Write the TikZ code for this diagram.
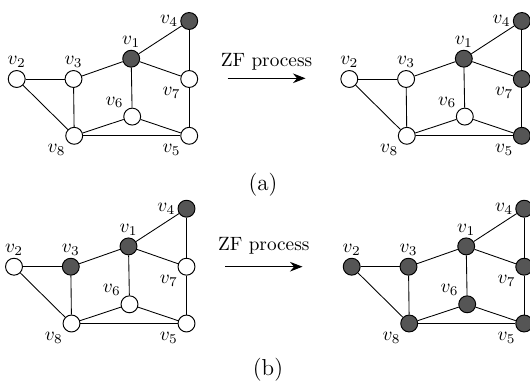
\documentclass[tikz,border=0pt]{standalone}
\usetikzlibrary{arrows.meta}
\definecolor{zfgray}{RGB}{85,85,85}

\tikzset{%
  % Specifications for style of vertices:
         vtx/.style = {circle, draw=black, fill=white, minimum size=8.8pt, inner sep=0pt, line width=0.5pt},
          zf/.style = {fill=zfgray},
  f1/.style = {}, f2/.style = {}, f3/.style = {}, f4/.style = {},
  f5/.style = {}, f6/.style = {}, f7/.style = {}, f8/.style = {},
        edge/.style = {line width=0.45pt},
  every label/.style = {inner sep=1pt},
}

% one graph, placed by the surrounding scope
\newcommand{\zfgraph}{%
    \node (v2) [vtx, f2, label=above:$v_2$]      at (0,0)         {};
    \node (v3) [vtx, f3, label=above:$v_3$]      at (56.8,0)      {};
    \node (v1) [vtx, f1, label=above:$v_1$]      at (114.5,-20.3) {};
    \node (v4) [vtx, f4, label=left:$v_4$]       at (172.5,-58)   {};
    \node (v7) [vtx, f7, label=below left:$v_7$] at (172.5,0)     {};
    \node (v6) [vtx, f6, label=above left:$v_6$] at (115.5,37.6)  {};
    \node (v8) [vtx, f8, label=below left:$v_8$] at (57.5,56.8)   {};
    \node (v5) [vtx, f5, label=below left:$v_5$] at (172.5,56.8)  {};
    \draw[edge] (v2) -- (v3);
    \draw[edge] (v2) -- (v8);
    \draw[edge] (v3) -- (v1);
    \draw[edge] (v3) -- (v8);
    \draw[edge] (v1) -- (v4);
    \draw[edge] (v1) -- (v7);
    \draw[edge] (v1) -- (v6);
    \draw[edge] (v4) -- (v7);
    \draw[edge] (v7) -- (v5);
    \draw[edge] (v6) -- (v8);
    \draw[edge] (v6) -- (v5);
    \draw[edge] (v8) -- (v5);
}

\begin{document}
\begin{tikzpicture}[x=0.52pt, y=-0.52pt]
    \useasboundingbox (0,0) rectangle (530,381);
    \clip (0,0) rectangle (530,381);

    % Graphs before and after
    \begin{scope}[shift={(16.7,79)}, name prefix=a1-, f1/.style=zf, f4/.style=zf]
        \zfgraph
    \end{scope}
    \begin{scope}[shift={(349.3,79)}, name prefix=a2-, f1/.style=zf, f4/.style=zf, f7/.style=zf, f5/.style=zf]
        \zfgraph
    \end{scope}
    \begin{scope}[shift={(14,266.7)}, name prefix=b1-, f1/.style=zf, f3/.style=zf, f4/.style=zf]
        \zfgraph
    \end{scope}
    \begin{scope}[shift={(351.7,266.7)}, name prefix=b2-, f1/.style=zf, f2/.style=zf, f3/.style=zf, f4/.style=zf,
                  f5/.style=zf, f6/.style=zf, f7/.style=zf, f8/.style=zf]
        \zfgraph
    \end{scope}

    % Draw arrows
    \coordinate (a-from) at (227.5,78.3);
    \coordinate (a-to)   at (305.5,78.3);
    \coordinate (b-from) at (225,266.7);
    \coordinate (b-to)   at (302.5,266.7);
    \draw[-{Stealth[length=6.5pt, width=5pt]}, line width=0.5pt] (a-from) -- node[above, inner sep=4pt] {ZF process} (a-to);
    \draw[-{Stealth[length=6.5pt, width=5pt]}, line width=0.5pt] (b-from) -- node[above, inner sep=6pt] {ZF process} (b-to);

    % Captions
    \node (cap-a) at (263,185) {\large (a)};
    \node (cap-b) at (268,370) {\large (b)};
\end{tikzpicture}
\end{document}
